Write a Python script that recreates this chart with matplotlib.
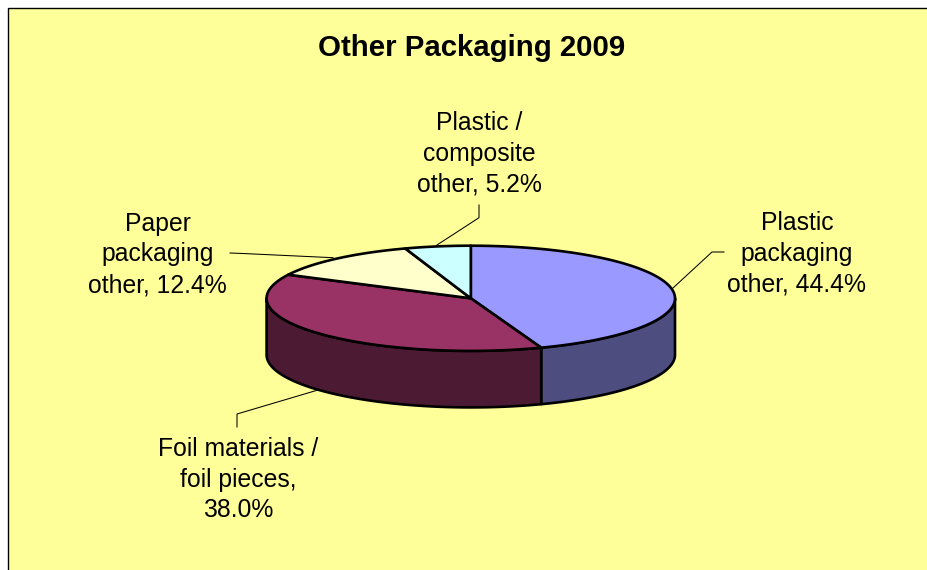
import numpy as np
import matplotlib
matplotlib.use("Agg")
import matplotlib.pyplot as plt
from matplotlib.patches import Polygon, Rectangle

plt.rcParams['font.family'] = ['Liberation Sans', 'DejaVu Sans']

labels = ["Plastic\npackaging\nother, 44.4%", "Foil materials /\nfoil pieces,\n38.0%",
          "Paper\npackaging\nother, 12.4%", "Plastic /\ncomposite\nother, 5.2%"]
values = [44.4, 38.0, 12.4, 5.2]
top_colors = ["#9999FF", "#993366", "#FFFFCC", "#CCFFFF"]
side_colors = ["#4D4D80", "#4D1A33", "#808066", "#668080"]
title = "Other Packaging 2009"

#pie geometry in pixels
cx = 470.8
cy = 298.3
rx = 204.2
ry = 52.6
depth = 56.5


def rim(a1, a2, dy=0):
#points on the ellipse between two angles, clockwise from the top, in degrees
    t = np.radians(np.linspace(a1, a2, 200))
    return np.column_stack((cx + rx*np.sin(t), cy + dy - ry*np.cos(t)))


fig = plt.figure(figsize=(9.27, 5.70), dpi=100, facecolor="white")
ax = fig.add_axes([0, 0, 1, 1])
ax.set_xlim(0, 927)
ax.set_ylim(570, 0)
ax.axis("off")

#panel
ax.add_patch(Rectangle((8, 8), 930, 570, facecolor="#FFFF99", edgecolor="black", linewidth=1.0, zorder=0))

edges = np.concatenate(([0], np.cumsum(values)))*360/np.sum(values)

#side walls, only the front half of the pie shows them
for i in range(len(values)):
    a1 = max(edges[i], 90)
    a2 = min(edges[i+1], 270)
    if a2 > a1:
        wall = np.vstack((rim(a1, a2), rim(a1, a2, depth)[::-1]))
        ax.add_patch(Polygon(wall, closed=True, facecolor=side_colors[i], edgecolor="black",
                             linewidth=1.9, joinstyle="round", zorder=2))

#top faces
for i in range(len(values)):
    pts = np.vstack(([[cx, cy]], rim(edges[i], edges[i+1])))
    ax.add_patch(Polygon(pts, closed=True, facecolor=top_colors[i], edgecolor="black",
                         linewidth=1.9, joinstyle="round", zorder=3))

#leader lines
leaders = [([673, 712, 724], [288, 252, 252]),
           ([318, 237, 237], [390, 414, 427]),
           ([230, 243, 333], [253, 253.5, 257.7]),
           ([437, 479, 479], [245, 217.7, 205])]
for xs, ys in leaders:
    ax.plot(xs, ys, color="black", linewidth=0.75, zorder=4)

#label positions (centre of text block)
label_pos = [(797, 253.5), (238, 479.5), (157.5, 254.5), (479, 154)]
for lab, (x, y) in zip(labels, label_pos):
    ax.text(x, y, lab, ha="center", va="center", fontsize=17.8, color="black",
            linespacing=1.345, zorder=5)

ax.text(471.5, 47.5, title, ha="center", va="center", fontsize=21.2, fontweight="bold", color="black", zorder=5)

fig.savefig("out.png", dpi=100, facecolor="white")
